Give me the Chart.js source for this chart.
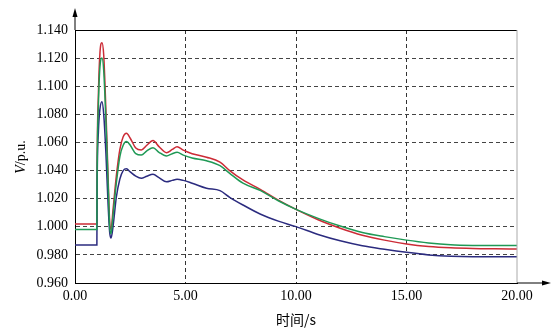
<!DOCTYPE html>
<html>
<head>
<meta charset="utf-8">
<script src="https://cdn.jsdelivr.net/npm/chart.js@4.4.1/dist/chart.umd.min.js"></script>
<style>
    html, body { margin: 0; padding: 0; background: #fff; }
    #wrap { width: 556px; height: 330px; }
</style>
</head>
<body>
<div id="wrap"><canvas id="voltChart" width="556" height="330"></canvas></div>
<script>
// time axis (s)
const times = [0, 0.99, 1.0, 1.06, 1.13, 1.22, 1.3, 1.4, 1.5, 1.57, 1.63, 1.72, 1.87, 2.03, 2.18, 2.33,
    2.5, 2.75, 3.0, 3.25, 3.53, 3.8, 4.14, 4.4, 4.62, 4.9, 5.3, 5.95, 6.56, 7.0, 7.6, 8.4, 9.2, 10,
    11, 12, 13, 14, 15, 16, 17, 18, 19, 20];

// voltage, p.u.
const redV = [1.002, 1.002, 1.04, 1.095, 1.124, 1.131, 1.122, 1.082, 1.034, 1.003, 0.998, 1.012, 1.036, 1.055, 1.064, 1.0665,
    1.063, 1.056, 1.0546, 1.058, 1.0613, 1.057, 1.0527, 1.055, 1.057, 1.0545, 1.052, 1.0495, 1.046, 1.040, 1.0333, 1.0265, 1.019, 1.0124,
    1.005, 0.999, 0.994, 0.9905, 0.9878, 0.986, 0.985, 0.9845, 0.9843, 0.9842];
const greenV = [0.998, 0.998, 1.035, 1.087, 1.114, 1.120, 1.111, 1.075, 1.030, 1.000, 0.995, 1.008, 1.031, 1.050, 1.058, 1.0606,
    1.058, 1.052, 1.051, 1.054, 1.0563, 1.053, 1.0504, 1.052, 1.053, 1.051, 1.049, 1.047, 1.0435, 1.038, 1.031, 1.0257, 1.0185, 1.0124,
    1.006, 1.0005, 0.996, 0.993, 0.9905, 0.9885, 0.9872, 0.9867, 0.9866, 0.9866];
const blueV = [0.987, 0.987, 1.025, 1.068, 1.084, 1.089, 1.080, 1.052, 1.015, 0.996, 0.992, 1.000, 1.021, 1.034, 1.040, 1.0412,
    1.039, 1.036, 1.0345, 1.036, 1.0373, 1.035, 1.032, 1.033, 1.0338, 1.033, 1.031, 1.0274, 1.0257, 1.021, 1.0155, 1.0089, 1.004, 1.0001,
    0.9945, 0.990, 0.9865, 0.984, 0.9818, 0.980, 0.979, 0.9787, 0.9787, 0.9787];

const yTicks = { min: 0.96, max: 1.14, step: 0.02 };
const xTicks = { min: 0, max: 20, step: 5 };

const serif = '"Liberation Serif", "DejaVu Serif", serif';

function toPoints(vals) {
    return times.map((t, i) => ({ x: t, y: vals[i] }));
}

function line(vals, color) {
    return {
        data: toPoints(vals),
        borderColor: color,
        borderWidth: 1.5,
        pointRadius: 0,
        fill: false,
        cubicInterpolationMode: 'monotone'
    };
}

// frame, arrows and axis titles
const framePlugin = {
    id: 'frame',
    afterDraw(chart) {
        const { ctx, chartArea: a } = chart;
        ctx.save();
        ctx.lineWidth = 1;
        // top border
        ctx.strokeStyle = '#000';
        ctx.beginPath();
        ctx.moveTo(a.left, a.top + 0.5);
        ctx.lineTo(a.right, a.top + 0.5);
        ctx.stroke();
        // right border
        ctx.strokeStyle = '#aaa';
        ctx.beginPath();
        ctx.moveTo(a.right, a.top);
        ctx.lineTo(a.right, a.bottom);
        ctx.stroke();
        // axis extensions with arrows
        ctx.strokeStyle = '#000';
        ctx.fillStyle = '#000';
        ctx.beginPath();
        ctx.moveTo(a.left, a.top);
        ctx.lineTo(a.left, a.top - 18);
        ctx.moveTo(a.right, a.bottom);
        ctx.lineTo(a.right + 30, a.bottom);
        ctx.stroke();
        ctx.beginPath();
        ctx.moveTo(a.left, a.top - 22);
        ctx.lineTo(a.left - 2.5, a.top - 13);
        ctx.lineTo(a.left + 2.5, a.top - 13);
        ctx.closePath();
        ctx.fill();
        ctx.beginPath();
        ctx.moveTo(a.right + 34, a.bottom);
        ctx.lineTo(a.right + 25, a.bottom - 2.5);
        ctx.lineTo(a.right + 25, a.bottom + 2.5);
        ctx.closePath();
        ctx.fill();

        // x title
        ctx.font = '14px "Noto Sans CJK SC", sans-serif';
        ctx.textAlign = 'center';
        ctx.textBaseline = 'middle';
        ctx.fillText('时间/s', (a.left + a.right) / 2, 320);

        // y title: italic V + /p.u.
        ctx.translate(21, 157);
        ctx.rotate(-Math.PI / 2);
        ctx.textAlign = 'left';
        ctx.font = 'italic 14px ' + serif;
        const w1 = ctx.measureText('V').width;
        ctx.font = '14px ' + serif;
        const w2 = ctx.measureText('/p.u.').width;
        const x0 = -(w1 + w2) / 2;
        ctx.font = 'italic 14px ' + serif;
        ctx.fillText('V', x0, 0);
        ctx.font = '14px ' + serif;
        ctx.fillText('/p.u.', x0 + w1, 0);
        ctx.restore();
    }
};

new Chart(document.getElementById('voltChart'), {
    type: 'line',
    data: {
        datasets: [
            line(greenV, '#1f9955'),
            line(blueV, '#2b2b7f'),
            line(redV, '#cc2b36')
        ]
    },
    options: {
        responsive: false,
        animation: false,
        layout: { padding: { left: 0, top: 30, right: 39, bottom: 0 } },
        plugins: {
            legend: { display: false },
            tooltip: { enabled: false }
        },
        scales: {
            x: {
                type: 'linear',
                min: xTicks.min,
                max: xTicks.max,
                afterFit: s => { s.height = 47; },
                ticks: {
                    stepSize: xTicks.step,
                    padding: 5,
                    color: '#000',
                    font: { family: serif, size: 14 },
                    callback: v => v.toFixed(2)
                },
                grid: {
                    drawTicks: false,
                    color: c => (c.tick && c.tick.value > xTicks.min && c.tick.value < xTicks.max) ? '#333' : 'rgba(0,0,0,0)'
                },
                border: { display: true, color: '#000', width: 1, dash: [4, 3] }
            },
            y: {
                min: yTicks.min,
                max: yTicks.max,
                afterFit: s => { s.width = 75; },
                ticks: {
                    stepSize: yTicks.step,
                    padding: 7,
                    color: '#000',
                    font: { family: serif, size: 14 },
                    callback: v => v.toFixed(3)
                },
                grid: {
                    drawTicks: false,
                    color: c => (c.tick && c.tick.value > yTicks.min + 0.001 && c.tick.value < yTicks.max - 0.001) ? '#444' : 'rgba(0,0,0,0)'
                },
                border: { display: true, color: '#000', width: 1, dash: [4, 3] }
            }
        }
    },
    plugins: [framePlugin]
});
</script>
</body>
</html>
